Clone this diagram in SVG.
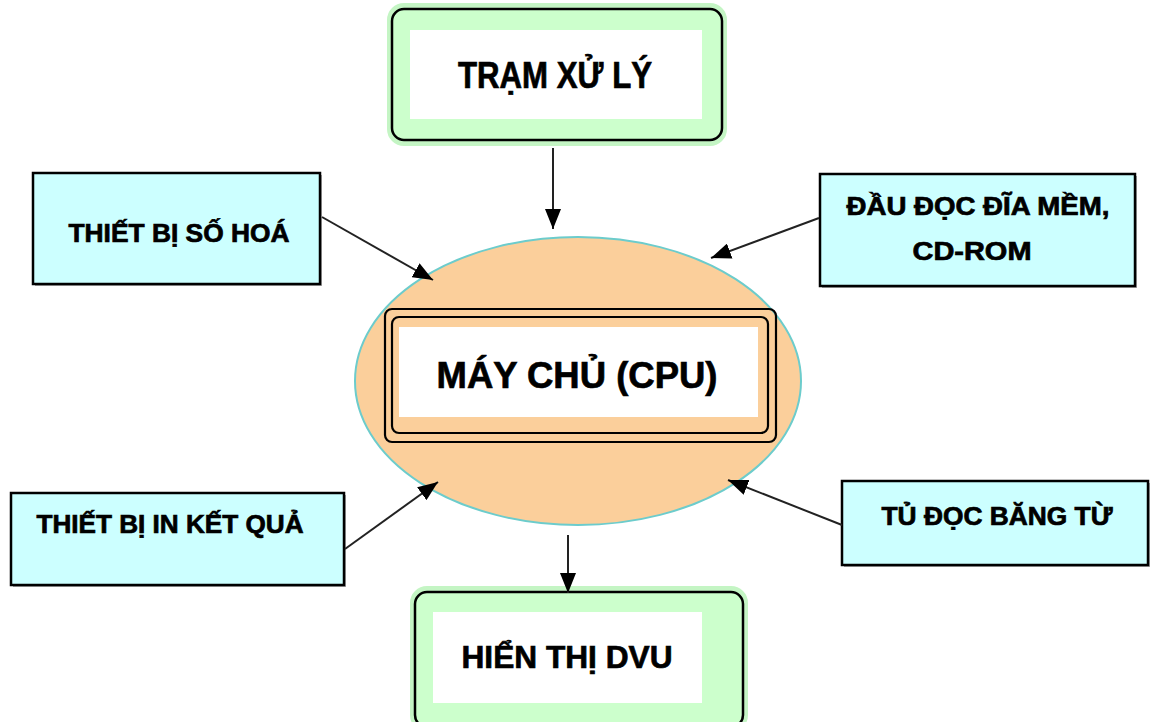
<svg xmlns="http://www.w3.org/2000/svg" width="1152" height="722" viewBox="0 0 1152 722">
<defs>
<marker id="ah" viewBox="0 0 20 16" refX="20" refY="8" markerWidth="20" markerHeight="16" markerUnits="userSpaceOnUse" orient="auto">
<path d="M0,0 L20,8 L0,16 Z" fill="#000"/>
</marker>
<style>
.lbl{font-family:"Liberation Sans","DejaVu Sans",sans-serif;font-weight:bold;fill:#000;stroke:#000;stroke-width:0.7;text-anchor:middle}
.cyan{fill:#CCFFFF;stroke:#000;stroke-width:2.5}
.shadow{fill:#a8a8a8}
.green{fill:#CCFFCC;stroke:#000;stroke-width:2.5}
.glow{fill:none;stroke:#C4F5C4;stroke-width:6}
.white{fill:#fff}
.conn{stroke:#222;stroke-width:2;fill:none;marker-end:url(#ah)}
</style>
</defs>
<rect width="1152" height="722" fill="#fff"/>

<g id="node-cpu">
<ellipse cx="578" cy="381" rx="223" ry="144" fill="#FBCF9B" stroke="#6CCCCC" stroke-width="2"/>
<rect x="385" y="309" width="391" height="133" rx="7" fill="none" stroke="#000" stroke-width="2.2"/>
<rect x="392" y="317" width="376" height="116" rx="7" fill="none" stroke="#000" stroke-width="2.2"/>
<rect x="399" y="327" width="359" height="90" class="white"/>
<text class="lbl" x="577" y="388" font-size="37" textLength="281" lengthAdjust="spacingAndGlyphs">MÁY CHỦ (CPU)</text>
</g>

<g id="node-tram">
<rect x="390" y="6" width="334" height="137" rx="14" class="glow"/>
<rect x="392" y="9" width="330" height="131" rx="12" class="green"/>
<rect x="410" y="30" width="292" height="89" class="white"/>
<text class="lbl" x="555" y="88" font-size="36" textLength="194" lengthAdjust="spacingAndGlyphs">TRẠM XỬ LÝ</text>
</g>

<g id="node-sohoa">
<rect x="35" y="175" width="287" height="111" class="shadow"/>
<rect x="33" y="173" width="287" height="111" class="cyan"/>
<text class="lbl" x="179" y="242" font-size="25" textLength="221" lengthAdjust="spacingAndGlyphs">THIẾT BỊ SỐ HOÁ</text>
</g>

<g id="node-daudoc">
<rect x="822" y="176" width="315" height="112" class="shadow"/>
<rect x="820" y="174" width="315" height="112" class="cyan"/>
<text class="lbl" x="978" y="215" font-size="25" textLength="263" lengthAdjust="spacingAndGlyphs">ĐẦU ĐỌC ĐĨA MỀM,</text>
<text class="lbl" x="972" y="260" font-size="25" textLength="119" lengthAdjust="spacingAndGlyphs">CD-ROM</text>
</g>

<g id="node-in">
<rect x="13" y="495" width="333" height="92" class="shadow"/>
<rect x="11" y="493" width="333" height="92" class="cyan"/>
<text class="lbl" x="170" y="533" font-size="25" textLength="267" lengthAdjust="spacingAndGlyphs">THIẾT BỊ IN KẾT QUẢ</text>
</g>

<g id="node-bangtu">
<rect x="844" y="483" width="306" height="84" class="shadow"/>
<rect x="842" y="481" width="306" height="84" class="cyan"/>
<text class="lbl" x="997" y="525" font-size="25" textLength="231" lengthAdjust="spacingAndGlyphs">TỦ ĐỌC BĂNG TỪ</text>
</g>

<g id="node-hienthi">
<rect x="413" y="589" width="332" height="140" rx="14" class="glow"/>
<rect x="415" y="592" width="328" height="135" rx="12" class="green"/>
<rect x="433" y="612" width="269" height="91" class="white"/>
<text class="lbl" x="567" y="668" font-size="32" textLength="211" lengthAdjust="spacingAndGlyphs">HIỂN THỊ DVU</text>
</g>

<g id="connectors">
<line class="conn" x1="553" y1="148" x2="553" y2="229"/>
<line class="conn" x1="322" y1="217" x2="433" y2="280"/>
<line class="conn" x1="819" y1="218" x2="711" y2="258"/>
<line class="conn" x1="345" y1="549" x2="438" y2="482"/>
<line class="conn" x1="842" y1="525" x2="728" y2="480"/>
<line class="conn" x1="568" y1="535" x2="568" y2="593"/>
</g>
</svg>
